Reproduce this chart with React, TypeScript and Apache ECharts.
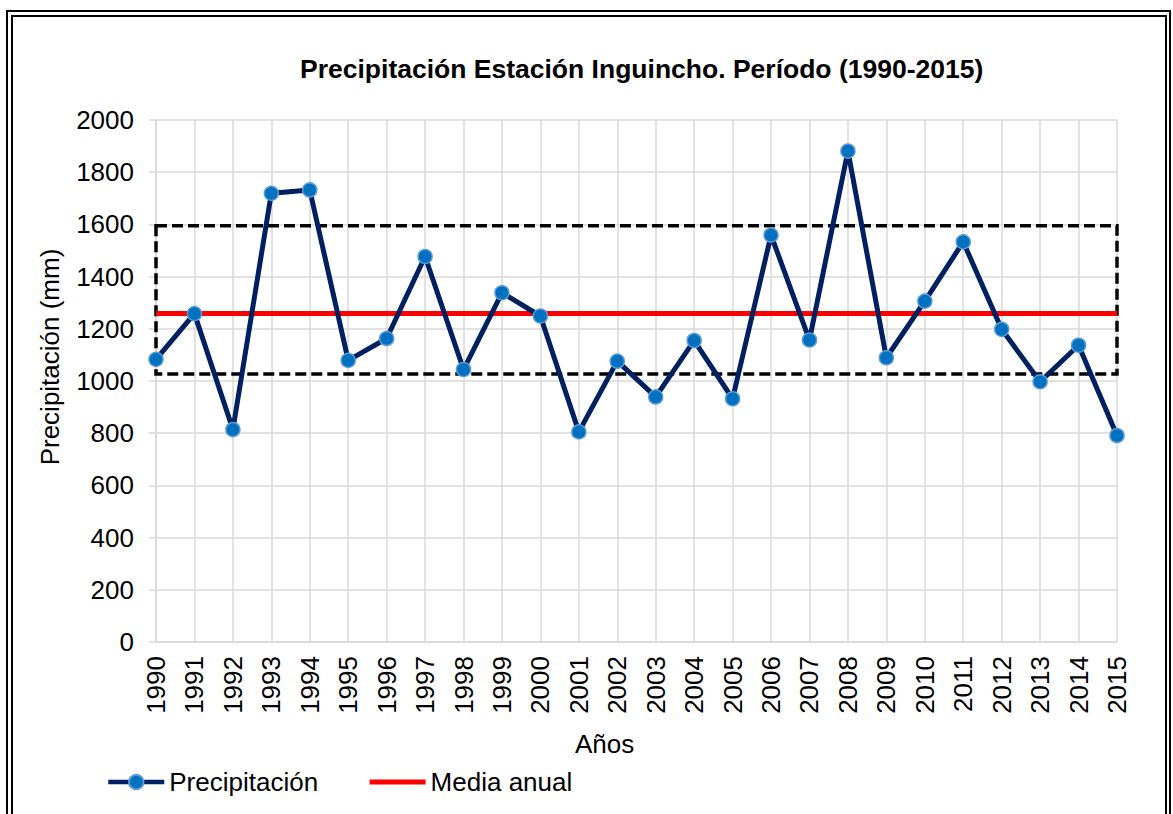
import React, { useEffect, useRef } from "react";
import * as echarts from "echarts";

const YEARS = [
  "1990", "1991", "1992", "1993", "1994", "1995", "1996", "1997", "1998", "1999",
  "2000", "2001", "2002", "2003", "2004", "2005", "2006", "2007", "2008", "2009",
  "2010", "2011", "2012", "2013", "2014", "2015",
];

const PRECIPITACION = [
  1083, 1258, 814, 1719, 1732, 1079, 1163, 1477, 1044, 1338,
  1249, 805, 1076, 939, 1155, 932, 1559, 1157, 1881, 1089,
  1306, 1533, 1198, 997, 1137, 791,
];

const MEDIA_ANUAL = 1259;
const BANDA_INFERIOR = 1027;
const BANDA_SUPERIOR = 1595;

const Y_MIN = 0;
const Y_MAX = 2000;
const Y_INTERVAL = 200;

const FONT = "'Liberation Sans', Arial, Helvetica, sans-serif";
const FS = 26;

export default function App() {
  const ref = useRef<HTMLDivElement>(null);

  useEffect(() => {
    if (!ref.current) return;
    const chart = echarts.init(ref.current, undefined, { renderer: "svg" });
    const mediaData = YEARS.map(() => MEDIA_ANUAL);

    chart.setOption({
      animation: false,
      backgroundColor: "#ffffff",
      textStyle: { fontFamily: FONT, color: "#000" },
      title: {
        text: "Precipitación Estación Inguincho. Período (1990-2015)",
        left: 300,
        top: 55,
        padding: 0,
        textStyle: { fontFamily: FONT, fontSize: 26.5, fontWeight: "bold", color: "#000" },
      },
      graphic: [
        {
          type: "rect",
          shape: { x: 7, y: 11, width: 1163, height: 900 },
          style: { fill: "none", stroke: "#000", lineWidth: 2 },
          silent: true,
        },
        {
          type: "rect",
          shape: { x: 12, y: 16, width: 1154, height: 900 },
          style: { fill: "none", stroke: "#000", lineWidth: 2 },
          silent: true,
        },
      ],
      legend: {
        data: [
          { name: "Precipitación", lineStyle: { width: 4.5 } },
          { name: "Media anual", itemStyle: { opacity: 0 }, lineStyle: { width: 5 } },
        ],
        left: 106,
        top: 769,
        padding: 0,
        itemWidth: 56,
        itemHeight: 18,
        itemGap: 49,
        textStyle: { fontFamily: FONT, fontSize: FS, color: "#000" },
      },
      grid: { left: 156, right: 56, top: 120, bottom: 172 },
      xAxis: {
        type: "category",
        data: YEARS,
        boundaryGap: false,
        name: "Años",
        nameLocation: "middle",
        nameGap: 89,
        nameTextStyle: { fontFamily: FONT, fontSize: FS, color: "#000", padding: [0, 64, 0, 0] },
        axisLine: { show: true, lineStyle: { color: "#d9d9d9", width: 1.5 } },
        axisTick: { show: false },
        splitLine: { show: true, lineStyle: { color: "#d9d9d9", width: 1.5 } },
        axisLabel: {
          interval: 0,
          rotate: 90,
          margin: 14,
          fontSize: FS,
          fontFamily: FONT,
          color: "#000",
        },
      },
      yAxis: {
        type: "value",
        min: Y_MIN,
        max: Y_MAX,
        interval: Y_INTERVAL,
        name: "Precipitación (mm)",
        nameLocation: "middle",
        nameGap: 93,
        nameTextStyle: { fontFamily: FONT, fontSize: FS, color: "#000", padding: [0, 0, 0, 48] },
        axisLine: { show: true, lineStyle: { color: "#d9d9d9", width: 1.5 } },
        axisTick: { show: true, length: 7, lineStyle: { color: "#d9d9d9", width: 1.5 } },
        splitLine: { show: true, lineStyle: { color: "#d9d9d9", width: 1.5 } },
        axisLabel: {
          margin: 22,
          fontSize: FS,
          fontFamily: FONT,
          color: "#000",
          formatter: (v: number) => String(v),
        },
      },
      series: [
        {
          name: "Media anual",
          type: "line",
          data: mediaData,
          symbol: "none",
          z: 2,
          lineStyle: { color: "#ff0000", width: 5 },
          itemStyle: { color: "#ff0000" },
          markArea: {
            silent: true,
            itemStyle: {
              color: "rgba(0,0,0,0)",
              borderColor: "#000",
              borderWidth: 3.5,
              borderType: [11, 5],
            },
            data: [
              [
                { xAxis: YEARS[0], yAxis: BANDA_SUPERIOR },
                { xAxis: YEARS[YEARS.length - 1], yAxis: BANDA_INFERIOR },
              ],
            ],
          },
        },
        {
          name: "Precipitación",
          type: "line",
          data: PRECIPITACION,
          z: 3,
          symbol: "circle",
          symbolSize: 14,
          lineStyle: { color: "#002060", width: 5 },
          itemStyle: { color: "#0070c0", borderColor: "#5b9bd5", borderWidth: 1.5 },
        },
      ],
    });

    return () => chart.dispose();
  }, []);

  return (
    <div
      ref={ref}
      style={{ position: "fixed", left: 0, top: 0, width: 1173, height: 814, background: "#fff" }}
    />
  );
}
